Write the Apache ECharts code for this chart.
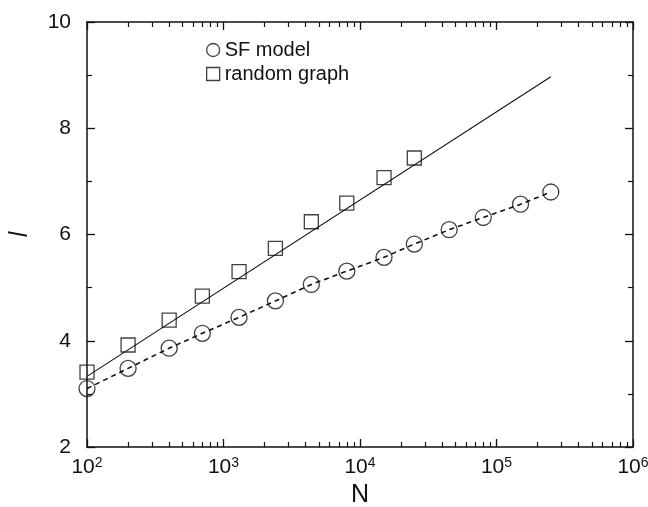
<!DOCTYPE html>
<html>
<head>
<meta charset="utf-8">
<script src="https://cdn.jsdelivr.net/npm/echarts@6/dist/echarts.min.js"></script>
<style>
  html, body { margin: 0; padding: 0; background: #fff; }
  #chart { width: 648px; height: 507px; }
</style>
</head>
<body>
<div id="chart"></div>
<script>
// Network size N for each simulated system
const sizesN = [100, 200, 400, 700, 1300, 2400, 4400, 8000, 15000, 25000, 45000, 80000, 150000, 250000];
// Average path length l, scale-free model
const sfModelL = [3.10, 3.48, 3.86, 4.14, 4.44, 4.75, 5.06, 5.31, 5.57, 5.82, 6.09, 6.32, 6.57, 6.80];
// Average path length l, random graph (measured up to N = 25000)
const randomN = [100, 200, 400, 700, 1300, 2400, 4400, 8000, 15000, 25000];
const randomL = [3.41, 3.92, 4.39, 4.84, 5.30, 5.74, 6.24, 6.59, 7.07, 7.44];
// Straight-line fit of the random-graph path length against log N
const randomFitN = [100, 250000];
const randomFitL = [3.33, 8.97];
// Tick labels
const yTicks = [2, 4, 6, 8, 10];
const xDecades = [100, 1000, 10000, 100000, 1000000];

const FONT = "'Liberation Sans', Arial, sans-serif";
const INK = '#111';

const pairs = (xs, ys) => xs.map((x, i) => [x, ys[i]]);

const chart = echarts.init(document.getElementById('chart'), null, { renderer: 'canvas' });

const logAxisBase = {
  type: 'log',
  logBase: 10,
  min: xDecades[0],
  max: xDecades[xDecades.length - 1],
  axisLine: { show: true, onZero: false, lineStyle: { color: INK, width: 1.5 } },
  axisTick: { show: true, inside: true, length: 8, lineStyle: { color: INK, width: 1.3 } },
  minorTick: { show: true, splitNumber: 9, length: 5, lineStyle: { color: INK, width: 1.2 } },
  splitLine: { show: false },
  minorSplitLine: { show: false }
};

const valAxisBase = {
  type: 'value',
  min: yTicks[0],
  max: yTicks[yTicks.length - 1],
  interval: 2,
  axisLine: { show: true, onZero: false, lineStyle: { color: INK, width: 1.5 } },
  axisTick: { show: true, inside: true, length: 8, lineStyle: { color: INK, width: 1.3 } },
  minorTick: { show: true, splitNumber: 2, length: 5, lineStyle: { color: INK, width: 1.2 } },
  splitLine: { show: false },
  minorSplitLine: { show: false }
};

const option = {
  animation: false,
  backgroundColor: '#fff',
  textStyle: { fontFamily: FONT },
  grid: { left: 87, right: 15, top: 22, bottom: 60, containLabel: false, outerBoundsMode: 'none' },
  legend: {
    orient: 'vertical',
    left: 206,
    top: 40,
    padding: 0,
    itemWidth: 13,
    itemHeight: 13,
    itemGap: 4,
    selectedMode: false,
    textStyle: { fontFamily: FONT, fontSize: 20, color: INK, lineHeight: 20 },
    data: [
      { name: 'SF model', icon: 'circle',
        itemStyle: { color: 'rgba(255,255,255,0)', borderColor: INK, borderWidth: 1.3 } },
      { name: 'random graph', icon: 'rect',
        itemStyle: { color: 'rgba(255,255,255,0)', borderColor: INK, borderWidth: 1.3 } }
    ]
  },
  xAxis: [
    Object.assign({}, logAxisBase, {
      position: 'bottom',
      name: 'N',
      nameLocation: 'middle',
      nameGap: 33,
      nameTextStyle: { fontFamily: FONT, fontSize: 25, color: INK },
      axisLabel: {
        show: true,
        margin: 9,
        color: INK,
        formatter: v => '{b|10}{s|' + Math.round(Math.log10(v)) + '}',
        rich: {
          b: { fontFamily: FONT, fontSize: 21, color: INK, lineHeight: 22 },
          s: { fontFamily: FONT, fontSize: 14, color: INK, lineHeight: 14, verticalAlign: 'top' }
        }
      }
    }),
    Object.assign({}, logAxisBase, {
      position: 'top',
      axisLabel: { show: false }
    })
  ],
  yAxis: [
    Object.assign({}, valAxisBase, {
      position: 'left',
      name: 'l',
      nameLocation: 'middle',
      nameGap: 54,
      nameRotate: 90,
      nameTextStyle: { fontFamily: FONT, fontSize: 25, fontStyle: 'italic', color: INK },
      axisLabel: { show: true, margin: 16, fontSize: 21, color: INK, fontFamily: FONT }
    }),
    Object.assign({}, valAxisBase, {
      position: 'right',
      axisLabel: { show: false }
    })
  ],
  series: [
    {
      name: 'random graph fit',
      type: 'line',
      data: pairs(randomFitN, randomFitL),
      showSymbol: false,
      symbol: 'none',
      lineStyle: { color: INK, width: 1.1, type: 'solid' },
      silent: true,
      z: 2
    },
    {
      name: 'SF model trend',
      type: 'line',
      data: pairs(sizesN, sfModelL),
      showSymbol: false,
      symbol: 'none',
      lineStyle: { color: INK, width: 1.6, type: [5, 4] },
      silent: true,
      z: 2
    },
    {
      name: 'SF model',
      type: 'scatter',
      data: pairs(sizesN, sfModelL),
      symbol: 'circle',
      symbolSize: 16,
      itemStyle: { color: 'rgba(255,255,255,0)', borderColor: INK, borderWidth: 1.3 },
      z: 3
    },
    {
      name: 'random graph',
      type: 'scatter',
      data: pairs(randomN, randomL),
      symbol: 'rect',
      symbolSize: 14,
      itemStyle: { color: 'rgba(255,255,255,0)', borderColor: INK, borderWidth: 1.3 },
      z: 3
    }
  ]
};

chart.setOption(option);
</script>
</body>
</html>
